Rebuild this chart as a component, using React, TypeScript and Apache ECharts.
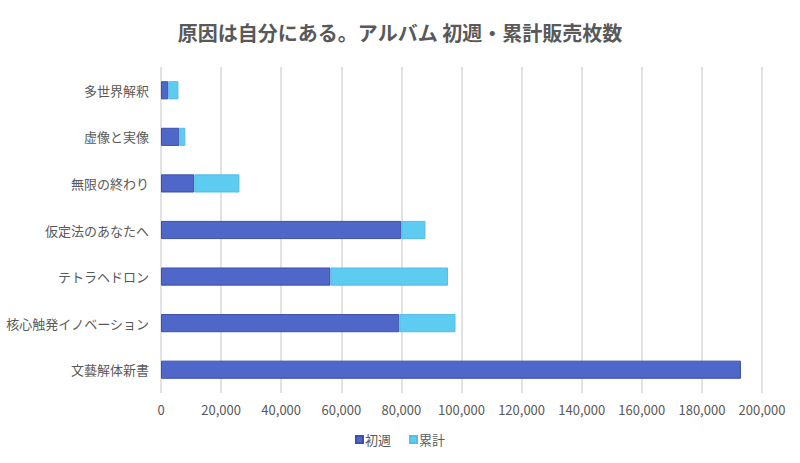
import React, { useEffect, useRef } from "react";
import * as echarts from "echarts";

const categories = [
  "文藝解体新書",
  "核心触発イノベーション",
  "テトラヘドロン",
  "仮定法のあなたへ",
  "無限の終わり",
  "虚像と実像",
  "多世界解釈",
];
const firstWeek = [193000, 79300, 56400, 80000, 11100, 6100, 2400];
const cumulativeExtra = [0, 18700, 39100, 8000, 15000, 2000, 3400];
const seriesNames = ["初週", "累計"];
const titleText = "原因は自分にある。アルバム 初週・累計販売枚数";

const FONT = "'Noto Sans CJK JP', 'Noto Sans', sans-serif";

export default function App() {
  const ref = useRef<HTMLDivElement>(null);
  useEffect(() => {
    if (!ref.current) return;
    const chart = echarts.init(ref.current, undefined, { renderer: "svg" });
    chart.setOption({
      animation: false,
      backgroundColor: "#ffffff",
      textStyle: { fontFamily: FONT },
      title: {
        text: titleText,
        left: "center",
        top: 17,
        textStyle: { fontSize: 20, fontWeight: "bold", color: "#595959", fontFamily: FONT },
      },
      legend: {
        bottom: 12,
        left: "center",
        itemWidth: 7,
        itemHeight: 7,
        itemGap: 18,
        icon: "rect",
        textStyle: { fontSize: 13, color: "#595959", fontFamily: FONT, padding: [0, 0, 0, -3] },
        data: seriesNames,
      },
      grid: { left: 161, right: 38, top: 67, bottom: 70, containLabel: false },
      xAxis: {
        type: "value",
        min: 0,
        max: 200000,
        interval: 20000,
        axisLine: { show: false },
        axisTick: { show: false },
        splitLine: { lineStyle: { color: "#d9d9d9", width: 1.5 } },
        axisLabel: {
          color: "#595959",
          fontSize: 13,
          margin: 10,
          fontFamily: FONT,
          formatter: (v: number) => v.toLocaleString("en-US"),
        },
      },
      yAxis: {
        type: "category",
        data: categories,
        axisLine: { show: false },
        axisTick: { show: false },
        axisLabel: { color: "#595959", fontSize: 13, margin: 12, fontFamily: FONT },
      },
      series: [
        {
          name: seriesNames[0],
          type: "bar",
          stack: "total",
          barCategoryGap: "61%",
          data: firstWeek,
          itemStyle: { color: "#4e67c8", borderColor: "#3c51a8", borderWidth: 1 },
        },
        {
          name: seriesNames[1],
          type: "bar",
          stack: "total",
          barCategoryGap: "61%",
          data: cumulativeExtra.map((v) => (v === 0 ? "-" : v)),
          itemStyle: { color: "#5ecbf0", borderColor: "#55bde3", borderWidth: 1 },
        },
      ],
    });
    return () => chart.dispose();
  }, []);
  return (
    <div
      ref={ref}
      style={{ position: "absolute", left: 0, top: 0, width: 800, height: 463 }}
    />
  );
}
